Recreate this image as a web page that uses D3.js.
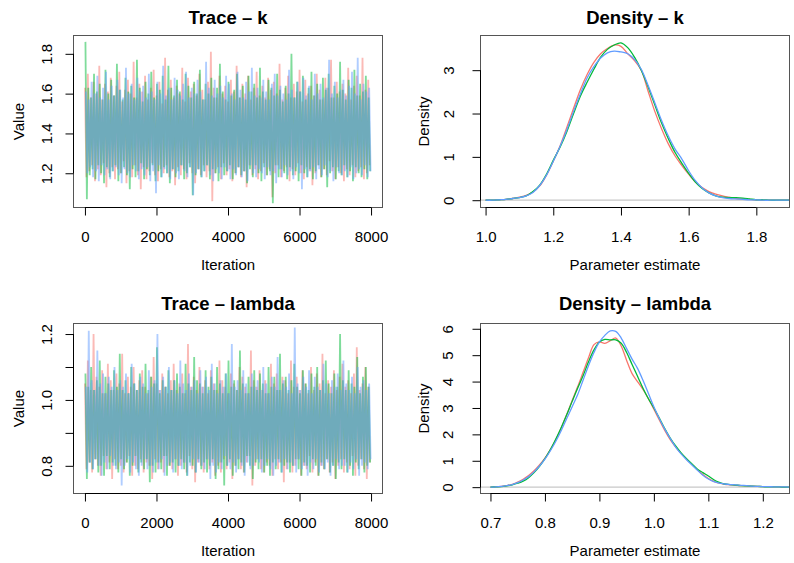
<!DOCTYPE html>
<html><head><meta charset="utf-8">
<script src="https://cdn.jsdelivr.net/npm/d3@7"></script>
<style>body{margin:0;background:#fff}svg{display:block}</style>
</head><body><svg id="c" width="794" height="563"></svg>
<script>
// ---------------- DATA ----------------
const chainColors = ["#F8766D", "#00BA38", "#619CFF"];
const traceThinStep = 40;             // draws kept every 40 iterations
const chainStartIter = [1, 14, 27];   // first kept iteration of each chain
const traceXTicks = [0, 2000, 4000, 6000, 8000];

// Trace of k (values x100), alternating local highs / lows
const kTraceRed_x100 = [
163,118,170,121,158,124,166,116,160,122,174,119,157,125,165,113,161,120,168,123,
159,117,164,122,171,120,156,126,162,115,167,121,160,118,176,124,158,119,165,112,
161,123,169,117,157,121,163,125,172,119,159,116,166,122,155,120,178,124,162,118,
167,121,158,114,164,123,160,119,173,122,156,117,168,125,161,120,165,115,159,122,
170,119,162,124,157,118,166,121,181,106,163,120,158,123,169,117,160,125,164,119,
156,122,167,116,161,120,174,123,158,118,165,121,160,113,169,124,157,119,163,122,
171,117,159,121,164,125,158,119,168,122,162,108,166,120,160,124,175,118,157,121,
163,123,169,116,158,122,165,119,161,125,172,120,156,117,167,123,160,121,164,114,
159,120,170,124,162,118,157,122,168,119,163,126,177,121,158,117,166,123,161,120,
165,116,160,122,173,119,157,124,164,118,169,121,159,123,178,117,162,120,167,124];
const kTraceGreen_x100 = [
186,107,163,119,158,122,170,117,161,124,165,120,157,115,172,123,160,118,167,121,
159,124,175,116,162,120,157,123,168,119,161,112,164,122,158,118,177,121,163,125,
156,117,166,122,160,119,171,124,158,116,165,121,162,118,169,123,157,120,174,115,
163,122,159,118,167,121,161,124,157,117,170,120,164,123,158,109,166,119,160,122,
172,118,157,121,165,124,160,117,168,122,158,120,163,116,175,123,161,119,157,121,
166,124,159,117,162,120,170,123,158,119,164,121,157,115,169,122,161,118,165,124,
158,120,173,116,161,123,157,119,167,121,163,105,159,124,170,118,162,122,156,120,
164,117,160,123,180,119,158,121,166,116,161,124,169,120,157,118,163,122,171,117,
159,121,165,124,157,118,168,122,162,113,170,120,158,123,164,117,160,121,176,119,
162,124,157,118,167,121,163,116,172,123,159,120,165,118,161,122,169,117,158,121];
const kTraceBlue_x100 = [
161,120,157,123,166,118,160,121,169,116,158,124,163,119,171,122,157,117,164,121,
159,123,167,119,162,115,158,122,173,120,160,118,165,124,157,121,168,117,161,122,
164,119,158,123,170,116,161,121,157,110,166,124,160,118,174,122,159,120,163,117,
157,122,168,120,162,117,159,124,165,121,171,118,158,123,163,109,160,120,167,122,
161,118,157,121,176,124,163,119,159,116,167,122,160,120,164,117,158,123,169,121,
165,117,160,122,157,119,171,123,162,118,158,121,166,116,161,124,173,120,159,118,
163,122,158,120,167,117,161,123,157,119,165,121,170,115,159,122,164,118,160,124,
157,119,172,121,162,117,158,123,166,120,161,112,168,122,159,118,164,121,157,123,
170,117,160,122,165,119,158,124,163,118,177,121,160,116,166,123,158,120,162,119,
167,121,159,118,164,123,171,117,160,120,178,122,157,119,165,124,161,118,163,121];

// Trace of lambda (values x100), alternating local highs / lows
const lambdaTraceRed_x100 = [
105,79,112,81,103,78,120,82,107,80,104,77,109,83,102,79,111,81,106,76,
103,82,108,79,105,80,114,78,102,81,107,83,104,77,110,80,103,79,106,82,
109,78,104,81,102,80,107,76,113,82,105,79,103,81,108,78,104,83,102,80,
106,79,111,82,103,77,105,80,108,81,102,78,117,83,104,79,107,75,103,81,
110,80,104,78,106,82,102,79,109,81,105,77,103,80,112,78,106,82,104,79,
102,81,108,76,105,80,103,82,110,79,107,78,104,81,102,83,115,74,106,80,
104,82,109,79,103,78,106,81,102,80,111,77,105,82,108,79,103,81,107,75,
106,79,102,81,112,78,104,80,107,82,103,77,109,80,105,79,102,83,110,78,
103,81,108,77,105,80,114,79,102,82,106,78,104,81,109,76,103,80,107,82,
111,78,104,81,106,79,102,83,108,77,116,80,103,82,105,79,110,76,104,81];
const lambdaTraceGreen_x100 = [
108,76,104,81,110,79,103,82,106,78,112,80,102,77,107,83,105,79,103,81,
109,80,104,78,114,82,103,79,106,81,102,77,110,80,105,83,103,78,108,81,
104,79,111,82,103,75,107,80,105,78,116,81,102,79,106,83,104,77,109,80,
103,81,106,78,108,80,104,82,102,79,111,77,105,81,103,80,113,78,106,82,
105,79,102,81,109,78,104,80,107,82,103,76,110,79,105,81,102,74,108,80,
112,82,104,77,106,80,103,79,115,81,105,78,102,83,107,80,104,76,109,81,
103,79,108,82,105,78,102,80,110,77,104,81,107,79,103,82,114,78,105,80,
107,81,103,78,106,80,111,82,104,79,102,77,109,81,105,80,103,78,108,82,
104,80,110,77,103,81,106,79,112,82,105,78,102,80,108,76,104,81,120,79,
106,82,103,78,109,80,105,77,104,81,113,79,102,82,107,78,110,80,104,81];
const lambdaTraceBlue_x100 = [
104,78,121,81,106,79,103,82,115,80,105,77,108,81,102,79,107,83,104,80,
110,79,103,81,106,74,104,80,108,82,102,78,111,81,105,79,103,77,107,80,
105,82,102,79,109,80,104,78,106,81,120,79,103,82,107,77,104,80,110,81,
103,78,106,82,102,80,112,79,105,81,103,77,108,80,104,82,106,78,102,81,
109,80,104,79,107,82,103,76,111,80,105,78,102,81,106,79,104,83,108,80,
102,79,117,81,104,78,106,82,103,80,109,77,105,81,102,79,108,80,104,82,
106,81,103,78,110,80,105,82,102,79,107,77,104,80,113,81,103,78,106,82,
104,79,108,81,102,80,122,78,105,82,103,79,107,80,104,77,109,81,102,79,
107,82,104,78,103,80,111,79,105,81,102,77,106,80,104,82,108,79,103,80,
112,80,105,78,103,81,107,79,102,82,110,77,104,80,106,81,103,79,105,82];

// Density of k
const kDensX = [1.00,1.02,1.04,1.06,1.08,1.10,1.12,1.14,1.16,1.18,1.20,1.22,1.24,1.26,1.28,1.30,1.32,1.34,1.36,1.38,
1.40,1.42,1.44,1.46,1.48,1.50,1.52,1.54,1.56,1.58,1.60,1.62,1.64,1.66,1.68,1.70,1.72,1.74,1.76,1.78,1.80,1.82,1.84,1.86,1.88,1.90];
const kDensRed = [0.00,0.00,0.01,0.02,0.04,0.07,0.11,0.19,0.33,0.58,0.90,1.25,1.68,2.12,2.55,2.90,3.18,3.38,3.50,3.58,
3.55,3.38,3.22,3.00,2.52,2.05,1.65,1.30,1.02,0.80,0.60,0.42,0.29,0.20,0.14,0.10,0.07,0.04,0.03,0.02,0.01,0.00,0.00,0.00,0.00,0.00];
const kDensGreen = [0.00,0.00,0.01,0.02,0.04,0.06,0.10,0.20,0.35,0.60,0.92,1.22,1.58,2.00,2.40,2.72,3.02,3.30,3.48,3.58,
3.63,3.52,3.30,3.00,2.62,2.20,1.78,1.42,1.10,0.85,0.62,0.42,0.27,0.17,0.10,0.07,0.06,0.06,0.05,0.03,0.01,0.01,0.00,0.00,0.00,0.00];
const kDensBlue = [0.00,0.00,0.01,0.02,0.04,0.06,0.10,0.18,0.34,0.58,0.90,1.24,1.62,2.05,2.45,2.82,3.08,3.28,3.40,3.44,
3.42,3.38,3.25,3.02,2.65,2.25,1.84,1.48,1.18,0.95,0.68,0.45,0.28,0.17,0.10,0.06,0.04,0.03,0.02,0.01,0.01,0.00,0.00,0.00,0.00,0.00];

// Density of lambda
const lambdaDensX = [0.70,0.71,0.72,0.73,0.74,0.75,0.76,0.77,0.78,0.79,0.80,0.81,0.82,0.83,0.84,0.85,0.86,0.87,0.88,0.89,
0.90,0.91,0.92,0.93,0.94,0.95,0.96,0.97,0.98,0.99,1.00,1.01,1.02,1.03,1.04,1.05,1.06,1.07,1.08,1.09,
1.10,1.11,1.12,1.13,1.14,1.15,1.16,1.17,1.18,1.19,1.20,1.21,1.22,1.23,1.24,1.25];
const lambdaDensRed = [0.00,0.01,0.03,0.06,0.11,0.19,0.30,0.44,0.62,0.84,1.10,1.42,1.80,2.25,2.75,3.28,3.80,4.35,4.90,5.40,
5.50,5.45,5.55,5.65,5.35,4.80,4.30,4.00,3.70,3.35,2.95,2.55,2.15,1.80,1.52,1.28,1.06,0.86,0.66,0.48,
0.33,0.22,0.15,0.11,0.09,0.07,0.06,0.05,0.04,0.03,0.02,0.02,0.01,0.01,0.00,0.00];
const lambdaDensGreen = [0.00,0.01,0.02,0.05,0.09,0.15,0.23,0.36,0.55,0.79,1.08,1.42,1.82,2.26,2.74,3.25,3.75,4.22,4.75,5.20,
5.50,5.60,5.58,5.58,5.45,5.10,4.65,4.20,3.75,3.35,3.00,2.62,2.22,1.86,1.56,1.30,1.08,0.88,0.68,0.55,
0.42,0.28,0.18,0.12,0.10,0.08,0.06,0.05,0.04,0.03,0.02,0.01,0.01,0.01,0.00,0.00];
const lambdaDensBlue = [0.00,0.01,0.03,0.06,0.10,0.17,0.27,0.40,0.58,0.80,1.06,1.38,1.74,2.15,2.60,3.05,3.50,4.05,4.60,5.10,
5.50,5.75,5.92,5.90,5.65,5.25,4.85,4.50,4.05,3.55,3.05,2.60,2.20,1.85,1.52,1.26,1.04,0.84,0.64,0.45,
0.31,0.21,0.15,0.12,0.10,0.09,0.07,0.06,0.04,0.03,0.02,0.02,0.01,0.01,0.01,0.00];

const kTraceYTicks = [1.2, 1.4, 1.6, 1.8];
const kTraceYLabels = [1.2, 1.4, 1.6, 1.8];
const lambdaTraceYTicks = [0.8, 0.9, 1.0, 1.1, 1.2];
const lambdaTraceYLabels = [0.8, 1.0, 1.2];
const kDensXTicks = [1.0, 1.2, 1.4, 1.6, 1.8];
const kDensYTicks = [0, 1, 2, 3];
const lambdaDensXTicks = [0.7, 0.8, 0.9, 1.0, 1.1, 1.2];
const lambdaDensYTicks = [0, 1, 2, 3, 4, 5, 6];

// ---------------- DRAWING ----------------
const FONT = '"Liberation Sans", Arial, Helvetica, sans-serif';
const svg = d3.select("#c");
svg.append("rect").attr("width", 794).attr("height", 563).attr("fill", "#fff");

function panel(cfg) {
  const x = d3.scaleLinear().domain(cfg.xDomain).range([cfg.left, cfg.right]);
  const y = d3.scaleLinear().domain(cfg.yDomain).range([cfg.bottom, cfg.top]);
  const clipId = "clip" + cfg.id;
  svg.append("clipPath").attr("id", clipId).append("rect")
    .attr("x", cfg.left).attr("y", cfg.top)
    .attr("width", cfg.right - cfg.left).attr("height", cfg.bottom - cfg.top);
  const plot = svg.append("g").attr("clip-path", `url(#${clipId})`);
  cfg.draw(plot, x, y);

  svg.append("rect").attr("x", cfg.left).attr("y", cfg.top)
    .attr("width", cfg.right - cfg.left).attr("height", cfg.bottom - cfg.top)
    .attr("fill", "none").attr("stroke", "#555").attr("stroke-width", 1);

  const xa = svg.append("g").attr("transform", `translate(0,${cfg.bottom})`)
    .call(d3.axisBottom(x).tickValues(cfg.xTicks).tickSize(8).tickSizeOuter(0).tickFormat(cfg.xFmt));
  xa.select(".domain").remove();
  xa.attr("font-family", FONT).attr("font-size", 15);
  xa.selectAll(".tick line").attr("stroke", "#000");
  xa.selectAll(".tick text").attr("fill", "#000").attr("y", 34.4).attr("dy", 0);
  xa.append("line").attr("x1", x(cfg.xTicks[0])).attr("x2", x(cfg.xTicks[cfg.xTicks.length - 1]))
    .attr("y1", 0).attr("y2", 0).attr("stroke", "#000");

  const ya = svg.append("g").attr("transform", `translate(${cfg.left},0)`)
    .call(d3.axisLeft(y).tickValues(cfg.yTicks).tickSize(8).tickSizeOuter(0)
      .tickFormat(d => cfg.yLabels.some(v => Math.abs(v - d) < 1e-9) ? cfg.yFmt(d) : ""));
  ya.select(".domain").remove();
  ya.attr("font-family", FONT).attr("font-size", 15);
  ya.selectAll(".tick line").attr("stroke", "#000");
  ya.selectAll(".tick text").attr("fill", "#000").attr("x", 0).attr("dy", 0)
    .attr("text-anchor", "middle").attr("transform", `translate(${-cfg.yLabOff},0) rotate(-90)`);
  ya.append("line").attr("y1", y(cfg.yTicks[0])).attr("y2", y(cfg.yTicks[cfg.yTicks.length - 1]))
    .attr("x1", 0).attr("x2", 0).attr("stroke", "#000");

  const cx = (cfg.left + cfg.right) / 2;
  svg.append("text").attr("x", cx).attr("y", cfg.titleY).attr("text-anchor", "middle")
    .attr("font-family", FONT).attr("font-weight", "bold").attr("font-size", 18.5).text(cfg.title);
  svg.append("text").attr("x", cx).attr("y", cfg.bottom + cfg.xLabOff).attr("text-anchor", "middle")
    .attr("font-family", FONT).attr("font-size", 15).text(cfg.xLabel);
  const cy = (cfg.top + cfg.bottom) / 2;
  svg.append("text").attr("transform", `translate(${cfg.yTitleX},${cy}) rotate(-90)`)
    .attr("text-anchor", "middle").attr("font-family", FONT).attr("font-size", 15).text(cfg.yLabel);
}

function drawTrace(chains) {
  return (g, x, y) => {
    chains.forEach((vals, ci) => {
      const iters = vals.map((d, i) => chainStartIter[ci] + i * traceThinStep);
      const line = d3.line().x((d, i) => x(iters[i])).y(d => y(d / 100));
      g.append("path").attr("d", line(vals)).attr("fill", "none")
        .attr("stroke", chainColors[ci]).attr("stroke-opacity", 0.5)
        .attr("stroke-width", 1.8).attr("stroke-linejoin", "miter").attr("stroke-miterlimit", 1.5);
    });
  };
}
function drawDensity(xs, chains) {
  return (g, x, y) => {
    g.append("line").attr("x1", x.range()[0]).attr("x2", x.range()[1])
      .attr("y1", y(0)).attr("y2", y(0)).attr("stroke", "#c8c8c8").attr("stroke-width", 1.2);
    chains.forEach((vals, ci) => {
      const line = d3.line().curve(d3.curveCatmullRom.alpha(0.5)).x((d, i) => x(xs[i])).y(d => y(d));
      g.append("path").attr("d", line(vals)).attr("fill", "none")
        .attr("stroke", chainColors[ci]).attr("stroke-width", 1.3);
    });
  };
}

const f1 = d3.format(".1f");
const f0 = d3.format("d");

panel({id: "tk", left: 73.5, right: 382.5, top: 35.5, bottom: 207.5,
  xDomain: [-320, 8320], yDomain: [1.028, 1.892],
  xTicks: traceXTicks, yTicks: kTraceYTicks, yLabels: kTraceYLabels, xFmt: f0, yFmt: f1,
  yLabOff: 22, yTitleX: 24, titleY: 23.5, xLabOff: 62, title: "Trace – k", xLabel: "Iteration", yLabel: "Value",
  draw: drawTrace([kTraceRed_x100, kTraceGreen_x100, kTraceBlue_x100])});

panel({id: "dk", left: 480.5, right: 789.5, top: 35.5, bottom: 207.5,
  xDomain: [0.985, 1.898], yDomain: [-0.168, 3.80],
  xTicks: kDensXTicks, yTicks: kDensYTicks, yLabels: kDensYTicks, xFmt: f1, yFmt: f0,
  yLabOff: 26.5, yTitleX: 429, titleY: 23.5, xLabOff: 62, title: "Density – k", xLabel: "Parameter estimate", yLabel: "Density",
  draw: drawDensity(kDensX, [kDensRed, kDensGreen, kDensBlue])});

panel({id: "tl", left: 73.5, right: 382.5, top: 323.5, bottom: 493.5,
  xDomain: [-320, 8320], yDomain: [0.716, 1.232],
  xTicks: traceXTicks, yTicks: lambdaTraceYTicks, yLabels: lambdaTraceYLabels, xFmt: f0, yFmt: f1,
  yLabOff: 22, yTitleX: 24, titleY: 310, xLabOff: 62, title: "Trace – lambda", xLabel: "Iteration", yLabel: "Value",
  draw: drawTrace([lambdaTraceRed_x100, lambdaTraceGreen_x100, lambdaTraceBlue_x100])});

panel({id: "dl", left: 480.5, right: 789.5, top: 323.5, bottom: 493.5,
  xDomain: [0.6817, 1.249], yDomain: [-0.24, 6.2],
  xTicks: lambdaDensXTicks, yTicks: lambdaDensYTicks, yLabels: lambdaDensYTicks, xFmt: f1, yFmt: f0,
  yLabOff: 27.5, yTitleX: 429, titleY: 310, xLabOff: 62, title: "Density – lambda", xLabel: "Parameter estimate", yLabel: "Density",
  draw: drawDensity(lambdaDensX, [lambdaDensRed, lambdaDensGreen, lambdaDensBlue])});
</script>
</body></html>
